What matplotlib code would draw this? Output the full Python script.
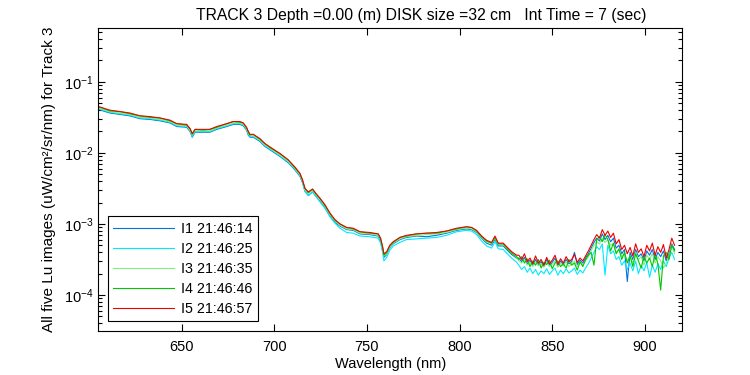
import numpy as np
import matplotlib.pyplot as plt

plt.rcParams['font.family'] = ['Liberation Sans', 'DejaVu Sans']
plt.rcParams['mathtext.default'] = 'regular'
plt.rcParams['font.size'] = 10

#Wavelength knots for the smooth part of the spectra (nm)
wl_smooth = [605.2, 611.4, 616.8, 622.2, 627.6, 633.0, 638.4, 643.8, 647.4, 652.8,
             654.6, 655.8, 657.3, 661.6, 665.3, 669.0, 674.4, 677.9, 681.5, 683.3,
             685.1, 686.0, 686.9, 688.7, 692.3, 695.0, 697.9, 703.1, 707.6, 711.2,
             713.9, 715.3, 716.6, 718.4, 720.7, 722.5, 724.7, 727.4, 730.1, 732.8,
             735.5, 739.1, 742.6, 746.3, 751.6, 756.1, 757.4, 758.5, 759.2, 760.7,
             762.4, 764.2, 767.8, 771.4, 776.8, 782.2, 787.6, 793.0, 798.4, 803.8,
             806.5, 809.2, 811.9, 814.6, 817.3, 819.1, 820.9, 823.6, 825.4, 828.1, 830.8]
#noisy tail, 832 to 916 nm every 1.5 nm
wl_tail = np.arange(832.0, 916.01, 1.5)

#log10 of Lu for each image
i1_smooth = [-1.39, -1.44, -1.46, -1.48, -1.52, -1.53, -1.55, -1.58, -1.63, -1.64,
             -1.70, -1.78, -1.71, -1.71, -1.71, -1.67, -1.63, -1.60, -1.60, -1.62,
             -1.68, -1.75, -1.78, -1.78, -1.84, -1.91, -1.96, -2.05, -2.14, -2.24,
             -2.33, -2.42, -2.54, -2.60, -2.55, -2.61, -2.68, -2.77, -2.89, -2.98,
             -3.03, -3.08, -3.09, -3.14, -3.15, -3.17, -3.24, -3.37, -3.47, -3.43,
             -3.33, -3.28, -3.22, -3.19, -3.17, -3.18, -3.16, -3.13, -3.09, -3.07,
             -3.08, -3.12, -3.20, -3.27, -3.30, -3.22, -3.31, -3.31, -3.36, -3.43, -3.48]
i2_smooth = [-1.38, -1.43, -1.45, -1.47, -1.51, -1.52, -1.54, -1.57, -1.62, -1.63,
             -1.69, -1.77, -1.70, -1.70, -1.70, -1.66, -1.62, -1.59, -1.59, -1.61,
             -1.67, -1.74, -1.77, -1.77, -1.83, -1.90, -1.95, -2.04, -2.13, -2.23,
             -2.32, -2.41, -2.54, -2.60, -2.55, -2.61, -2.69, -2.78, -2.90, -2.99,
             -3.06, -3.12, -3.13, -3.17, -3.18, -3.20, -3.27, -3.40, -3.52, -3.47,
             -3.37, -3.31, -3.26, -3.22, -3.21, -3.20, -3.19, -3.16, -3.11, -3.09,
             -3.10, -3.15, -3.24, -3.31, -3.34, -3.25, -3.35, -3.36, -3.41, -3.48, -3.54]
i3_smooth = [-1.37, -1.42, -1.44, -1.46, -1.50, -1.51, -1.53, -1.56, -1.61, -1.62,
             -1.68, -1.75, -1.69, -1.69, -1.69, -1.65, -1.61, -1.58, -1.58, -1.60,
             -1.66, -1.72, -1.76, -1.76, -1.82, -1.89, -1.94, -2.03, -2.12, -2.22,
             -2.31, -2.40, -2.52, -2.57, -2.53, -2.59, -2.66, -2.75, -2.87, -2.96,
             -3.02, -3.07, -3.08, -3.13, -3.14, -3.16, -3.22, -3.35, -3.45, -3.42,
             -3.32, -3.27, -3.21, -3.18, -3.16, -3.15, -3.14, -3.12, -3.08, -3.06,
             -3.07, -3.11, -3.19, -3.25, -3.28, -3.20, -3.29, -3.29, -3.34, -3.41, -3.47]
i4_smooth = [-1.35, -1.41, -1.42, -1.45, -1.48, -1.50, -1.51, -1.55, -1.59, -1.61,
             -1.66, -1.74, -1.67, -1.68, -1.67, -1.64, -1.59, -1.56, -1.57, -1.58,
             -1.65, -1.70, -1.75, -1.74, -1.81, -1.87, -1.93, -2.01, -2.10, -2.21,
             -2.29, -2.39, -2.50, -2.56, -2.51, -2.58, -2.64, -2.74, -2.85, -2.95,
             -3.00, -3.05, -3.07, -3.11, -3.13, -3.14, -3.21, -3.33, -3.44, -3.40,
             -3.30, -3.26, -3.19, -3.17, -3.14, -3.13, -3.13, -3.10, -3.07, -3.04,
             -3.05, -3.10, -3.18, -3.24, -3.27, -3.19, -3.28, -3.28, -3.34, -3.41, -3.46]
i5_smooth = [-1.35, -1.40, -1.42, -1.44, -1.48, -1.49, -1.51, -1.54, -1.59, -1.60,
             -1.66, -1.73, -1.67, -1.67, -1.67, -1.63, -1.59, -1.56, -1.56, -1.58,
             -1.64, -1.70, -1.74, -1.74, -1.80, -1.87, -1.92, -2.01, -2.10, -2.20,
             -2.29, -2.38, -2.50, -2.55, -2.51, -2.57, -2.64, -2.73, -2.85, -2.94,
             -3.00, -3.05, -3.06, -3.11, -3.12, -3.14, -3.20, -3.32, -3.42, -3.39,
             -3.30, -3.25, -3.19, -3.16, -3.14, -3.13, -3.12, -3.10, -3.06, -3.04,
             -3.05, -3.09, -3.17, -3.23, -3.26, -3.17, -3.27, -3.27, -3.32, -3.39, -3.44]

i1_tail = [-3.48, -3.53, -3.47, -3.56, -3.51, -3.58, -3.50, -3.57, -3.53, -3.60,
           -3.50, -3.58, -3.54, -3.48, -3.60, -3.52, -3.57, -3.50, -3.56, -3.53,
           -3.40, -3.57, -3.51, -3.55, -3.48, -3.42, -3.34, -3.26, -3.20, -3.24,
           -3.14, -3.22, -3.16, -3.25, -3.20, -3.34, -3.30, -3.42, -3.36, -3.81,
           -3.40, -3.50, -3.36, -3.46, -3.42, -3.52, -3.38, -3.44, -3.36, -3.50,
           -3.40, -3.46, -3.38, -3.52, -3.42, -3.28, -3.36]
i2_tail = [-3.58, -3.64, -3.60, -3.68, -3.62, -3.70, -3.64, -3.72, -3.66, -3.70,
           -3.63, -3.71, -3.66, -3.62, -3.72, -3.65, -3.70, -3.63, -3.69, -3.66,
           -3.62, -3.71, -3.65, -3.69, -3.62, -3.56, -3.48, -3.40, -3.32, -3.36,
           -3.28, -3.72, -3.30, -3.42, -3.38, -3.50, -3.46, -3.58, -3.52, -3.64,
           -3.55, -3.66, -3.52, -3.70, -3.58, -3.66, -3.54, -3.75, -3.58, -3.68,
           -3.56, -3.64, -3.52, -3.60, -3.48, -3.40, -3.50]
i3_tail = [-3.52, -3.55, -3.50, -3.58, -3.54, -3.60, -3.53, -3.59, -3.56, -3.61,
           -3.54, -3.60, -3.57, -3.52, -3.61, -3.55, -3.59, -3.53, -3.60, -3.56,
           -3.52, -3.60, -3.55, -3.58, -3.52, -3.46, -3.38, -3.30, -3.25, -3.28,
           -3.20, -3.26, -3.22, -3.30, -3.28, -3.40, -3.36, -3.46, -3.42, -3.52,
           -3.45, -3.55, -3.40, -3.50, -3.46, -3.58, -3.44, -3.50, -3.42, -3.55,
           -3.46, -3.52, -3.62, -3.55, -3.45, -3.30, -3.42]
i4_tail = [-3.50, -3.46, -3.55, -3.49, -3.60, -3.52, -3.58, -3.50, -3.62, -3.54,
           -3.57, -3.51, -3.63, -3.55, -3.52, -3.60, -3.56, -3.62, -3.50, -3.58,
           -3.55, -3.65, -3.53, -3.60, -3.50, -3.44, -3.40, -3.58, -3.22, -3.18,
           -3.25, -3.15, -3.22, -3.38, -3.27, -3.42, -3.35, -3.50, -3.40, -3.55,
           -3.45, -3.60, -3.42, -3.52, -3.62, -3.45, -3.55, -3.48, -3.60, -3.42,
           -3.56, -3.93, -3.45, -3.40, -3.50, -3.30, -3.38]
i5_tail = [-3.44, -3.50, -3.42, -3.53, -3.48, -3.56, -3.45, -3.55, -3.50, -3.58,
           -3.47, -3.56, -3.51, -3.44, -3.57, -3.49, -3.55, -3.46, -3.53, -3.50,
           -3.43, -3.54, -3.48, -3.52, -3.45, -3.38, -3.30, -3.22, -3.15, -3.20,
           -3.08, -3.16, -3.10, -3.19, -3.13, -3.28, -3.22, -3.36, -3.30, -3.42,
           -3.33, -3.45, -3.28, -3.40, -3.35, -3.46, -3.30, -3.38, -3.27, -3.44,
           -3.32, -3.40, -3.29, -3.48, -3.36, -3.20, -3.30]

labels = ['I1 21:46:14', 'I2 21:46:25', 'I3 21:46:35', 'I4 21:46:46', 'I5 21:46:57']
colors = ['#0072e6', '#00e8ff', '#80f080', '#00c800', '#f00000']

wl = np.concatenate([wl_smooth, wl_tail])
series = [i1_smooth + i1_tail, i2_smooth + i2_tail, i3_smooth + i3_tail,
          i4_smooth + i4_tail, i5_smooth + i5_tail]

fig = plt.figure(figsize=(7.5, 3.75), dpi=100)
ax = fig.add_axes([0.1313, 0.1181, 0.7780, 0.8064])

for vals, lab, col in zip(series, labels, colors):
    ax.plot(wl, 10 ** np.array(vals), color=col, lw=0.8, label=lab)

ax.set_yscale('log')
ax.set_xlim(605.2, 920)
ax.set_ylim(3.15e-5, 0.564)
ax.set_xticks([650, 700, 750, 800, 850, 900])
ax.set_yticks([1e-4, 1e-3, 1e-2, 1e-1])
ax.tick_params(which='both', direction='in', top=True, right=True, width=0.8)
ax.tick_params(which='major', length=5, labelsize=10.5)
ax.tick_params(axis='x', which='major', pad=7)
ax.tick_params(which='minor', length=3)
for s in ax.spines.values():
    s.set_linewidth(0.8)

ax.set_xlabel('Wavelength (nm)', fontsize=10.5, labelpad=2)
ax.set_ylabel('All five Lu images (uW/cm²/sr/nm) for Track 3', fontsize=11, labelpad=6)
ax.set_title('TRACK 3 Depth =0.00 (m) DISK size =32 cm   Int Time = 7 (sec)',
             fontsize=11.3, x=0.553, pad=6)

leg = ax.legend(loc='lower left', fancybox=False, edgecolor='black', framealpha=1,
                handlelength=4.2, handletextpad=0.5, labelspacing=0.42,
                borderaxespad=0.65, fontsize=10.3)
leg.get_frame().set_linewidth(0.8)

plt.savefig('out.png', dpi=100)
